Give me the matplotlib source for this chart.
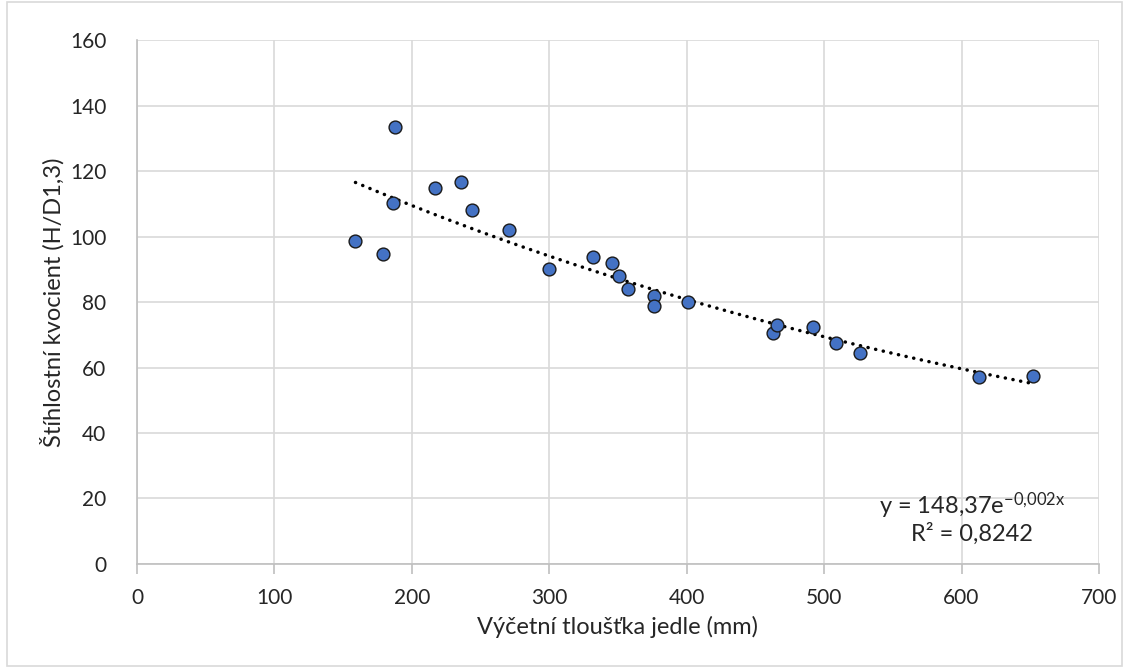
import numpy as np
import matplotlib.pyplot as plt
from matplotlib.patches import Rectangle

# measured trees: breast-height diameter (mm) vs slenderness quotient
diameter = [159, 179, 186, 188, 217, 236, 244, 271, 300, 332, 346, 351,
            357, 376, 376, 401, 463, 466, 492, 509, 526, 613, 652]
slenderness = [98.5, 94.6, 110.3, 133.5, 114.8, 116.6, 108.0, 102.0, 90.2,
               93.6, 91.8, 87.8, 84.0, 81.8, 78.7, 80.0, 70.6, 73.0, 72.4,
               67.4, 64.5, 57.0, 57.5]
x_ticks = [0, 100, 200, 300, 400, 500, 600, 700]
y_ticks = [0, 20, 40, 60, 80, 100, 120, 140, 160]
eq_label = r"y = 148,37e$^{\mathrm{-0{,}002x}}$"
r2_label = "R² = 0,8242"

plt.rcParams['font.family'] = ['Lato', 'DejaVu Sans']
plt.rcParams['mathtext.fontset'] = 'custom'
plt.rcParams['mathtext.rm'] = 'Lato'
plt.rcParams['mathtext.it'] = 'Lato'

fig = plt.figure(figsize=(11.29, 6.68), dpi=100)
ax = fig.add_axes([0.1213, 0.1557, 0.8521, 0.7844])

# exponential trendline fitted from the points
xd = np.array(diameter, dtype=float)
yd = np.array(slenderness, dtype=float)
k, lna = np.polyfit(xd, np.log(yd), 1)
xs = np.linspace(xd.min(), xd.max(), 200)
ax.plot(xs, np.exp(lna) * np.exp(k * xs), color='black', lw=2.5,
        linestyle=(0, (0.05, 2.2)), dash_capstyle='round', zorder=2)

ax.scatter(diameter, slenderness, s=85, facecolor='#4472C4',
           edgecolor='#1a1a1a', linewidth=1.0, zorder=3)

ax.set_xlim(0, 700)
ax.set_ylim(0, 160)
ax.set_xticks(x_ticks)
ax.set_yticks(y_ticks)
ax.grid(True, color='#D9D9D9', linewidth=1.2)
ax.set_axisbelow(True)
for side in ['top', 'right']:
    ax.spines[side].set_visible(False)
for side in ['left', 'bottom']:
    ax.spines[side].set_color('#BFBFBF')
    ax.spines[side].set_linewidth(1.2)
ax.tick_params(axis='x', length=7, width=1.2, color='#BFBFBF', pad=10,
               labelsize=15, labelcolor='#262626')
ax.tick_params(axis='y', length=0, pad=22, labelsize=15, labelcolor='#262626')

ax.set_xlabel("Výčetní tloušťka jedle (mm)", fontsize=17, color='#262626', labelpad=6)
ax.set_ylabel("Štíhlostní kvocient (H/D1,3)", fontsize=17, color='#262626', labelpad=4)

ax.text(0.868, 0.1108, eq_label, transform=ax.transAxes, fontsize=17,
        color='#262626', ha='center', va='center')
ax.text(0.868, 0.0584, r2_label, transform=ax.transAxes, fontsize=17,
        color='#262626', ha='center', va='center')

fig.patches.append(Rectangle((0.006, 0.003), 0.988, 0.994, transform=fig.transFigure,
                             fill=False, edgecolor='#D9D9D9', linewidth=1.2))

fig.savefig("out.png", dpi=100)
